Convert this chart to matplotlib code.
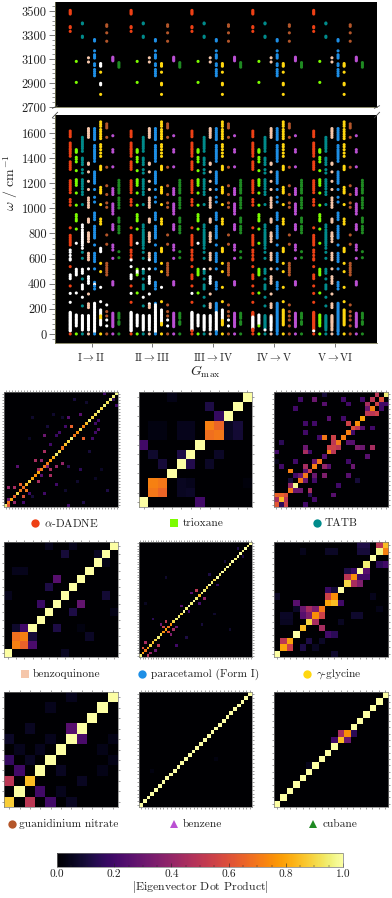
import numpy as np
import matplotlib
matplotlib.use("Agg")
import matplotlib.pyplot as plt
from matplotlib.lines import Line2D
from matplotlib.ticker import MultipleLocator, FixedLocator

plt.rcParams["font.family"] = ["cmr10", "DejaVu Serif"]
plt.rcParams["mathtext.fontset"] = "cm"
plt.rcParams["axes.linewidth"] = 0.6

W, H = 392, 898

# names / colours / markers of the crystals
names = [r"$\alpha$-DADNE", "trioxane", "TATB", "benzoquinone", "paracetamol (Form I)",
         r"$\gamma$-glycine", "guanidinium nitrate", "benzene", "cubane"]
colors = ["#ee4015", "#7cfc00", "#008b8b", "#f5c6aa", "#1e8fe6", "#ffd70f", "#b4562a", "#ba50d2", "#1f8a22"]
legend_markers = ["o", "s", "o", "s", "o", "o", "o", "^", "^"]
groups = [r"$\mathrm{I}\rightarrow\mathrm{II}$", r"$\mathrm{II}\rightarrow\mathrm{III}$",
          r"$\mathrm{III}\rightarrow\mathrm{IV}$", r"$\mathrm{IV}\rightarrow\mathrm{V}$",
          r"$\mathrm{V}\rightarrow\mathrm{VI}$"]
top_ticks = [2700, 2900, 3100, 3300, 3500]

# high frequency modes (upper panel)
high_modes = [
    [3505, 3495, 3485, 3475, 3370, 3360, 3330],
    [3080, 2905],
    [3400, 3393, 3290, 3280],
    [3110, 3075],
    [3262, 3250, 3168, 3135, 3122, 3108, 3060, 3045, 3012, 2995, 2978, 2960],
    [3062, 3050, 3040, 2990, 2897, 2885, 2805],
    [3385, 3372, 3318, 3248],
    [3115, 3105, 3095, 3085],
    [3070, 3058, 3045, 3032],
]

# lower panel modes
red_modes = [1615, 1600, 1585, 1570, 1520, 1505, 1490, 1475, 1465, 1450, 1435, 1415, 1370, 1355, 1340, 1325, 1310,
             1220, 1205, 1190, 1175, 1160, 1145, 1125, 1070, 1050, 1025, 845, 785, 770, 755, 740, 725, 708, 668, 650,
             625, 600, 589, 536, 470, 455, 440, 382, 323, 252, 172, 165, 158, 150, 143, 135, 128, 120, 112, 105, 98,
             90, 82, 75, 68, 60, 52, 45, 38, 30, 24, 0]
lime_modes = [1467, 1456, 1446, 1406, 1390, 1370, 1300, 1228, 1215, 1200, 1183, 1122, 1025, 950, 935, 915, 900, 835,
              722, 515, 500, 485, 470, 326, 151, 140, 128, 115, 104, 92, 80, 64, 0]
teal_modes = [1565, 1550, 1535, 1520, 1505, 1490, 1475, 1454, 1400, 1385, 1365, 1348, 1308, 1281, 1228, 1212, 1195,
              1175, 1155, 1130, 1110, 1030, 868, 850, 828, 810, 795, 780, 765, 750, 735, 722, 705, 682, 650, 602,
              515, 499, 483, 438, 390, 374, 358, 292, 223, 146, 135, 125, 115, 105, 95, 85, 75, 65, 55, 45, 32, 0]
pink_modes = [1635, 1622, 1610, 1595, 1580, 1565, 1360, 1350, 1290, 1215, 1150, 1083, 1065, 1045, 1025, 1008, 915,
              903, 890, 805, 790, 777, 775, 755, 735, 642, 625, 607, 590, 518, 456, 440, 420, 403, 318, 240, 225,
              210, 146, 135, 125, 115, 105, 95, 85, 72, 60, 45, 32, 0]
blue_modes = [1635, 1620, 1605, 1590, 1575, 1560, 1547, 1500, 1485, 1467, 1454, 1440, 1425, 1410, 1395, 1374, 1290,
              1275, 1260, 1245, 1230, 1215, 1200, 1150, 1088, 1050, 963, 945, 928, 910, 857, 840, 825, 808, 792, 778,
              764, 708, 642, 625, 608, 592, 576, 518, 411, 395, 380, 358, 244, 232, 220, 208, 195, 182, 170, 158, 146,
              134, 122, 110, 98, 86, 74, 62, 50, 38, 28, 18, 0]
yellow_modes = [1688, 1670, 1653, 1627, 1610, 1590, 1572, 1555, 1507, 1490, 1467, 1440, 1414, 1335, 1322, 1308, 1167,
                1150, 1135, 1122, 1030, 915, 895, 875, 682, 668, 655, 562, 496, 371, 257, 191, 180, 168, 156, 144, 132,
                120, 108, 96, 84, 72, 0]
brown_modes = [1672, 1655, 1640, 1565, 1327, 1180, 1110, 1043, 1008, 788, 714, 562, 545, 525, 508, 490, 470, 231, 178,
               143, 111, 64, 0]
purple_modes = [1578, 1467, 1448, 1330, 1157, 1140, 1125, 1110, 1035, 1020, 1005, 990, 975, 955, 870, 855, 840, 830,
                708, 690, 668, 602, 416, 403, 390, 165, 152, 140, 128, 116, 104, 92, 80, 68, 58, 0]
green_modes = [1223, 1205, 1188, 1175, 1155, 1140, 1122, 1083, 1065, 1045, 1025, 1003, 923, 905, 890, 857, 840, 825,
               805, 655, 607, 165, 152, 138, 125, 98, 88, 77, 0]
low_modes = [red_modes, lime_modes, teal_modes, pink_modes, blue_modes, yellow_modes, brown_modes, purple_modes,
             green_modes]

# frequency windows (per series) that show up white for each G_max step
white_g1 = [[(830, 840), (585, 670), (435, 475), (320, 326), (250, 255), (20, 175)],
            [(718, 725), (465, 520), (320, 330), (60, 155)],
            [(680, 870), (480, 520), (355, 395), (288, 295), (30, 150)],
            [(400, 460), (510, 525), (25, 150)],
            [(10, 250), (390, 400)],
            [(650, 685), (368, 375), (255, 260), (70, 115), (145, 195)],
            [(228, 235), (105, 115), (60, 68)],
            [], []]
white_g2 = [[(830, 840), (585, 595), (530, 540), (435, 475), (320, 326), (20, 175)],
            [(718, 725), (475, 510), (60, 155)],
            [(510, 520), (288, 295), (30, 150)],
            [(585, 595), (510, 525), (400, 460), (315, 320), (235, 242), (25, 150)],
            [(10, 235)],
            [(368, 375), (85, 195)],
            [(105, 115), (60, 68)],
            [], []]
white_g3 = [[(320, 326), (30, 175)],
            [(718, 725), (60, 155)],
            [(510, 520), (30, 150)],
            [(400, 460), (25, 150)],
            [(20, 180)],
            [(120, 195)],
            [(105, 115), (60, 68)],
            [], []]
white_g4 = [[(40, 140)], [(75, 152)], [(30, 35)], [(30, 140)], [], [], [], [], []]
white_g5 = [[(20, 26)], [], [], [], [], [], [], [], []]
white_low = [white_g1, white_g2, white_g3, white_g4, white_g5]
white_high_g1 = [[], [], [], [], [], [(3035, 3065), (2880, 2900)], [], [], []]

# matrices: diagonal values plus (col, row, value) cells off the diagonal
diag_dadne = [.95, .7, .8, .65, .9, .7, .68, .85, .9, .8, .75, .8, .72, .7, .72, .78, .82, .95, .9, .7, .85, .9, .95, .7,
              .75, .92, .72, .85, .95, .9, .92, .95, .9, .95, .92, .96, .95, .98]
off_dadne = [(22, 26, .65), (26, 22, .65), (25, 30, .25), (21, 29, .25), (31, 28, .2), (30, 27, .2), (31, 25, .25),
             (30, 24, .2), (29, 22, .2), (20, 26, .2), (18, 24, .2), (17, 23, .18), (15, 20, .2), (13, 23, .3),
             (13, 18, .45), (10, 15, .45), (12, 15, .4), (14, 13, .35), (11, 12, .45), (15, 12, .45), (17, 13, .4),
             (19, 14, .4), (15, 10, .45), (11, 8, .45), (4, 13, .25), (3, 6, .45), (1, 6, .4), (5, 7, .65), (7, 5, .7),
             (6, 3, .6), (1, 2, .3), (1, 0, .6), (3, 1, .4), (6, 1, .2), (13, 4, .2), (17, 7, .2), (21, 13, .15),
             (25, 12, .15), (34, 5, .12), (37, 33, .2), (36, 35, .15), (33, 37, .2), (21, 0, .2), (26, 1, .12),
             (9, 29, .08), (14, 26, .1), (19, 29, .08), (27, 34, .08), (23, 35, .1), (8, 22, .07), (16, 30, .08),
             (28, 18, .1), (24, 8, .08), (32, 12, .07), (8, 4, .2), (12, 10, .25), (9, 3, .1), (20, 5, .08), (30, 9, .07)]

diag_trioxane = [1, .72, .7, 1, 1, 1, 1, .72, .7, 1, 1, 1]
off_trioxane = [(1, 2, .72), (2, 2, .7), (1, 1, .7), (2, 1, .66), (7, 8, .72), (8, 8, .66), (7, 7, .68), (8, 7, .7),
                (0, 6, .2), (6, 0, .2), (7, 10, .12), (8, 9, .17), (1, 5, .08), (4, 5, .12), (5, 4, .13),
                (2, 4, .1), (4, 1, .06), (4, 2, .06), (5, 1, .07), (5, 2, .05), (9, 7, .06), (9, 8, .06), (10, 7, .09),
                (10, 8, .1), (1, 7, .03), (2, 7, .03), (1, 8, .03), (2, 8, .03), (4, 7, .05), (5, 7, .05), (4, 8, .05),
                (5, 8, .05), (8, 5, .07), (7, 4, .07), (3, 11, .04), (11, 2, .02)]

diag_tatb = [.62, .85, .6, .7, .98, .7, .7, .55, .72, .7, .72, .72, .55, .7, .72, .72, .7, .75, .8, .72, .72, .72, .75, .95]
off_tatb = [(0, 1, .45), (0, 2, .65), (1, 2, .65), (2, 1, .5), (1, 0, .15), (2, 0, .55), (3, 4, .4), (4, 3, .3), (5, 3, .3),
            (3, 5, .1), (7, 3, .45), (7, 2, .15), (6, 5, .3), (5, 6, .3), (8, 5, .2), (10, 6, .35), (6, 8, .45), (8, 6, .3),
            (3, 7, .72), (6, 7, .25), (11, 8, .25), (8, 9, .3), (10, 8, .4), (6, 11, .45), (7, 11, .2), (6, 12, .3),
            (11, 11, .72), (12, 11, .5), (11, 12, .55), (12, 13, .5), (13, 12, .5), (10, 14, .7), (12, 14, .55),
            (14, 14, .72), (9, 14, .2), (6, 15, .2), (16, 13, .25), (17, 12, .35), (15, 13, .25), (18, 12, .3),
            (20, 12, .45), (19, 10, .25), (16, 8, .3), (15, 9, .2), (10, 10, .25), (15, 17, .55), (16, 16, .6), (17, 16, .5),
            (16, 15, .2), (18, 16, .25), (20, 16, .2), (6, 17, .2), (8, 17, .2), (11, 18, .25), (14, 18, .2), (19, 19, .5),
            (20, 19, .5), (21, 19, .55), (19, 20, .3), (19, 21, .45), (20, 22, .5), (21, 23, .5), (22, 22, .6),
            (23, 21, .2), (22, 21, .2), (22, 20, .2), (18, 22, .2), (21, 21, .55), (4, 20, .2), (5, 22, .2), (8, 22, .3),
            (10, 21, .25), (14, 22, .2), (15, 21, .2), (10, 23, .1), (1, 8, .2), (0, 9, .05), (4, 9, .2), (0, 11, .2),
            (1, 13, .15), (13, 4, .2), (12, 2, .25), (6, 0, .2), (8, 1, .2), (4, 6, .2), (15, 6, .25), (17, 5, .1)]

diag_benzoquinone = [1, .7, .7, 1, 1, 1, 1, 1, 1, 1, 1, 1, 1, 1]
off_benzoquinone = [(1, 2, .68), (2, 2, .72), (1, 1, .72), (2, 1, .65), (1, 3, .08), (2, 3, .2), (3, 1, .22), (3, 2, .1),
                    (6, 3, .12), (6, 9, .25), (5, 8, .12), (4, 6, .18), (9, 6, .28), (8, 5, .12), (7, 12, .1), (1, 10, .05),
                    (2, 10, .05), (5, 13, .05), (8, 13, .05), (10, 2, .07), (12, 7, .09), (0, 7, .05), (7, 0, .06),
                    (11, 12, .06), (12, 11, .04), (13, 5, .04), (9, 3, .03)]

diag_paracetamol = [.95, .8, .7, .8, .9, .85, .9, .95, .9, .75, .8, .7, .75, .9, .95, .95, .9, 1, .95, 1, .95, 1, .95, .85,
                    .95, .95, .9, 1, .95, .9, 1, .95, 1, .95, 1, .95, 1, .95, 1, 1, .95, 1, .95, 1]
off_paracetamol = [(3, 0, .5), (1, 3, .6), (4, 1, .4), (6, 2, .3), (2, 5, .45), (7, 4, .5), (9, 11, .55), (11, 9, .6),
                   (10, 13, .5), (13, 10, .45), (8, 12, .3), (12, 8, .35), (14, 11, .3), (16, 19, .25), (19, 17, .2),
                   (22, 25, .5), (25, 22, .4), (23, 20, .2), (20, 24, .25), (30, 27, .15), (27, 31, .12), (33, 36, .1),
                   (5, 14, .15), (14, 4, .2), (18, 7, .12), (24, 12, .1), (35, 10, .08), (10, 30, .08), (2, 20, .06),
                   (40, 38, .12), (38, 41, .12), (29, 16, .08)]

diag_glycine = [1, .8, .8, 1, .85, .9, .75, .7, .8, .75, 1, .9, .75, 1, .95, 1, .97, .85]
off_glycine = [(2, 1, .55), (1, 2, .5), (5, 6, .35), (7, 6, .55), (4, 6, .25), (4, 7, .3), (5, 7, .45), (6, 7, .35),
               (6, 5, .45), (7, 4, .45), (3, 7, .07), (3, 8, .25), (10, 8, .2), (9, 8, .85), (8, 9, .55), (8, 10, .18),
               (9, 10, .1), (11, 12, .5), (12, 11, .45), (13, 11, .35), (11, 13, .12), (12, 13, .18), (13, 12, .2),
               (14, 12, .2), (14, 13, .25), (16, 14, .15), (17, 14, .2), (13, 16, .1), (14, 16, .1), (13, 17, .12),
               (14, 17, .12), (8, 3, .2), (9, 3, .15), (9, 0, .08), (5, 2, .12), (4, 1, .12), (6, 1, .06), (7, 2, .07),
               (17, 16, .72), (16, 17, .5), (1, 5, .06), (2, 5, .06), (1, 6, .07), (2, 6, .07), (10, 5, .06),
               (9, 16, .07), (8, 16, .07), (0, 9, .07), (15, 9, .05), (16, 7, .04), (13, 6, .08), (12, 6, .08), (4, 16, .05)]

diag_guanidinium = [.88, 1, .85, 1, 1, 1, 1, 1, 1, 1, 1]
off_guanidinium = [(2, 0, .5), (4, 0, .2), (3, 1, .2), (0, 2, .5), (1, 3, .2), (0, 4, .17), (6, 7, .25), (7, 6, .22),
                   (0, 6, .07), (2, 7, .06), (3, 5, .05), (1, 5, .05), (2, 4, .06), (5, 3, .06), (5, 1, .05), (6, 0, .06),
                   (7, 2, .06), (4, 9, .05), (6, 10, .05), (9, 3, .04), (9, 5, .04), (10, 4, .04), (10, 6, .04), (4, 6, .05)]

diag_benzene = [1, 1, 1, 1, 1, 1, 1, 1, 1, 1, 1, 1, 1, 1, 1, 1, 1, 1, 1, 1, 1, 1, 1, 1, 1, 1, 1, 1, 1, 1]
off_benzene = [(3, 9, .03), (20, 12, .03)]

diag_cubane = [1, 1, 1, 1, 1, 1, 1, 1, 1, 1, .85, .75, 1, 1, 1, 1, 1, 1]
off_cubane = [(11, 10, .3), (10, 11, .45), (9, 10, .2), (12, 11, .15), (5, 6, .05)]

matrix_data = [(diag_dadne, off_dadne), (diag_trioxane, off_trioxane), (diag_tatb, off_tatb),
               (diag_benzoquinone, off_benzoquinone), (diag_paracetamol, off_paracetamol), (diag_glycine, off_glycine),
               (diag_guanidinium, off_guanidinium), (diag_benzene, off_benzene), (diag_cubane, off_cubane)]

# pixel boxes, so the layout stays close to the original
def px_axes(fig, l, t, r, b):
    return fig.add_axes([l / W, 1 - b / H, (r - l) / W, (b - t) / H])

def is_white(f, windows):
    return any(lo <= f <= hi for lo, hi in windows)

def draw_modes(ax, modes, whites):
    for g in range(5):
        for i, m in enumerate(modes):
            x = g + (i - 3.5) * 0.1
            win = whites[g][i] if whites[g] is not None else []
            col = ["white" if is_white(f, win) else colors[i] for f in m]
            ax.scatter([x] * len(m), m, s=5, c=col, linewidths=0, zorder=3)

fig = plt.figure(figsize=(W / 100, H / 100), dpi=100)
tick_col = "#444444"

ax_top = px_axes(fig, 55, 2, 377, 107)
ax_low = px_axes(fig, 55, 115, 377, 343)
for ax in (ax_top, ax_low):
    ax.set_facecolor("black")
    ax.set_xlim(-0.6, 4.69)
    for s in ("top", "right"):
        ax.spines[s].set_visible(False)
    for s in ("left", "bottom"):
        ax.spines[s].set_color("#777755")
    ax.tick_params(axis="y", which="major", length=4, width=0.5, color=tick_col, labelsize=9, labelcolor="#222222", pad=2)
    ax.tick_params(axis="y", which="minor", length=2, width=0.4, color=tick_col)

ax_top.yaxis.set_major_locator(FixedLocator(top_ticks))
ax_top.yaxis.set_minor_locator(FixedLocator(np.arange(2700, 3575, 40)))
ax_low.yaxis.set_major_locator(MultipleLocator(200))
ax_low.yaxis.set_minor_locator(MultipleLocator(40))
ax_top.set_ylim(2700, 3575)
ax_low.set_ylim(-72, 1743)
ax_top.set_xticks([])
ax_low.set_xticks(range(5))
ax_low.set_xticklabels(groups)
ax_low.tick_params(axis="x", length=3, width=0.5, color=tick_col, labelsize=7.8, labelcolor="#222222", pad=3)

draw_modes(ax_top, high_modes, [white_high_g1, None, None, None, None])
draw_modes(ax_low, low_modes, white_low)

# axis break marks
for ax, y in ((ax_top, 0), (ax_low, 1)):
    for x in (0, 1):
        ax.plot([x - 0.008, x + 0.008], [y - 0.012, y + 0.012], transform=ax.transAxes, color="#444444", lw=0.6,
                clip_on=False, zorder=5)

fig.text(11 / W, 1 - 183 / H, r"$\omega$ / cm$^{-1}$", rotation=90, ha="center", va="center", fontsize=10, color="#222222")
fig.text(205 / W, 1 - 372 / H, r"$G_{\mathrm{max}}$", ha="center", va="center", fontsize=10, color="#222222")

# matrices
boxes_x = [(4, 118), (139, 252), (274, 388)]
boxes_y = [(392, 507), (542, 657), (692, 807)]
label_y = [523, 674, 824]
marker_x = [35, 174, 317, 25, 142, 307, 12, 174, 313]
text_x = [44, 183, 325, 33, 151, 316, 19, 183, 323]

for k, (diag, off) in enumerate(matrix_data):
    row, col = divmod(k, 3)
    ax = px_axes(fig, boxes_x[col][0], boxes_y[row][0], boxes_x[col][1], boxes_y[row][1])
    n = len(diag)
    mat = np.zeros((n, n))
    for i, v in enumerate(diag):
        mat[i, i] = v
    for c, r, v in off:
        mat[r, c] = v
    im = ax.imshow(mat, cmap="inferno", vmin=0, vmax=1, origin="lower", aspect="auto", interpolation="nearest")
    ax.set_xticks(range(n))
    ax.set_yticks(range(n))
    ax.tick_params(length=1.5, width=0.4, color="#555555", top=True, right=True, labelbottom=False, labelleft=False)
    for s in ax.spines.values():
        s.set_color("#777777")
        s.set_linewidth(0.5)
    fig.add_artist(Line2D([marker_x[k] / W], [1 - label_y[row] / H], marker=legend_markers[k], color=colors[k], ms=6,
                          mew=0, ls="none", transform=fig.transFigure))
    fig.text(text_x[k] / W, 1 - label_y[row] / H, names[k], ha="left", va="center", fontsize=8.2, color="#222222")

cax = px_axes(fig, 57, 853, 343, 867)
cb = fig.colorbar(im, cax=cax, orientation="horizontal")
cb.ax.xaxis.set_major_locator(FixedLocator([0, .2, .4, .6, .8, 1]))
cb.ax.xaxis.set_minor_locator(MultipleLocator(0.05))
cb.ax.tick_params(which="major", direction="in", length=3, width=0.4, color="#222222", labelsize=8.2, labelcolor="#222222", pad=1.5)
cb.ax.tick_params(which="minor", direction="in", length=1.5, width=0.3, color="#222222")
cb.outline.set_linewidth(0.5)
cb.outline.set_edgecolor("#777777")
cb.set_label(r"$|$Eigenvector Dot Product$|$", fontsize=8.5, labelpad=0, color="#222222")

fig.savefig("out.png", dpi=100)
